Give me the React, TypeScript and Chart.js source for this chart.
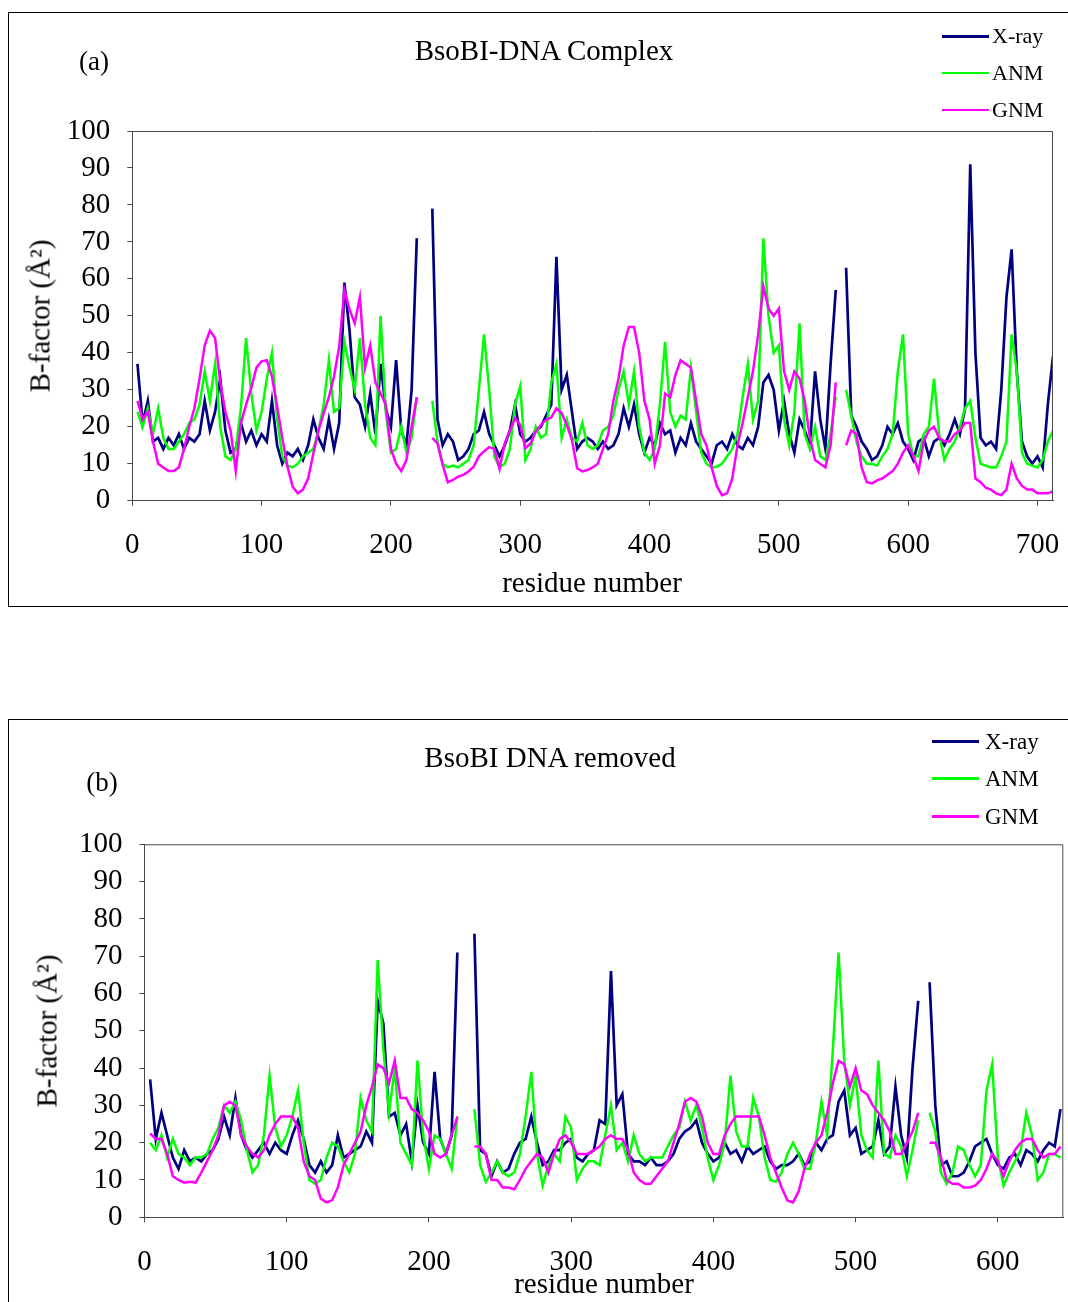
import React, { useEffect, useRef } from "react";
import { Chart, registerables } from "chart.js";

Chart.register(...registerables);

// ---------- sampling grid (residue numbers) ----------
const range = (start: number, end: number, step: number): number[] => {
  const out: number[] = [];
  for (let v = start; v <= end; v += step) out.push(v);
  return out;
};
const RESIDUES_A = range(4, 712, 4);
const RESIDUES_B = range(4, 644, 4);

// ---------- panel (a): BsoBI-DNA Complex ----------
const XRAY_A: (number | null)[] = [
  37, 21, 27, 16, 17, 14, 17, 15, 18, 14,
  17, 16, 18, 27, 19, 24, 33, 19, 13, 14,
  21, 16, 19, 15, 18, 16, 27, 15, 10, 13,
  12, 14, 11, 15, 22, 17, 14, 22, 14, 21,
  59, 46, 28, 26, 20, 29, 18, 37, 25, 20,
  38, 19, 15, 30, 71, null, null, 79, 22, 15,
  18, 16, 11, 12, 14, 18, 19, 24, 18, 15,
  12, 15, 19, 26, 18, 16, 17, 19, 20, 23,
  26, 66, 30, 34, 24, 14, 16, 17, 16, 14,
  16, 14, 15, 18, 25, 20, 26, 18, 13, 17,
  15, 21, 18, 19, 13, 17, 15, 21, 16, 14,
  12, 10, 15, 16, 14, 18, 15, 14, 17, 15,
  20, 32, 34, 30, 19, 27, 18, 13, 22, 19,
  15, 35, 22, 14, 37, 57, null, 63, 23, 20,
  16, 14, 11, 12, 15, 20, 18, 21, 16, 14,
  11, 16, 17, 12, 16, 17, 15, 18, 22, 18,
  25, 91, 40, 17, 15, 16, 14, 30, 55, 68,
  35, 16, 12, 10, 12, 9, 26, 39,
];
const ANM_A: (number | null)[] = [
  24, 20, 25, 18, 25, 17, 14, 14, 16, 18,
  21, 22, 26, 35, 27, 37, 20, 12, 11, 14,
  25, 44, 29, 19, 24, 33, 40, 22, 12, 9.5,
  9, 10, 12, 13, 14, 19, 26, 38, 24, 25,
  43, 36, 30, 44, 26, 17, 15, 50, 24, 13,
  14, 20, 13, 17, 28, null, null, 27, 16, 10,
  9, 9.5, 9, 10, 11, 15, 30, 45, 30, 12,
  9, 10, 14, 26, 31, 11, 14, 20, 17, 18,
  32, 37, 17, 22, 17, 16, 21, 15, 14, 15,
  19, 20, 23, 30, 35, 26, 35, 20, 13, 11,
  14, 26, 43, 24, 20, 23, 22, 36, 24, 13,
  10, 9, 9.2, 10, 12, 14, 18, 28, 37, 22,
  27, 71, 50, 40, 42, 22, 15, 24, 48, 18,
  14, 20, 12, 11, 18, 28, null, 30, 23, 16,
  12, 10, 10, 9.5, 12, 14, 18, 35, 45, 18,
  12, 12, 18, 20, 33, 18, 11, 14, 16, 20,
  25, 27, 17, 10, 9.5, 9, 9, 12, 16, 45,
  35, 13, 10, 9.5, 9, 11, 16, 19,
];
const GNM_A: (number | null)[] = [
  27, 22, 24, 16, 10, 9, 8, 8, 9, 14,
  20, 25, 33, 42, 46, 44, 32, 24, 19, 8,
  21, 26, 30.5, 36, 37.7, 38, 33.6, 25.5, 17, 9.2,
  3.8, 2, 3, 6, 12.8, 19, 23.7, 28, 33.6, 41.7,
  57, 51.7, 48, 55, 36, 42, 32, 29, 26, 14,
  10, 8, 11, 20, 28, null, null, 17, 15.5, 9.7,
  5, 5.6, 6.5, 7, 7.9, 9.2, 12, 13.3, 14.5, 14,
  8.6, 15.5, 19, 22.3, 20.5, 14.2, 15.5, 18.7, 20.5, 21.9,
  22.5, 25, 23.7, 20.5, 16.4, 8.8, 7.9, 8.3, 9, 10,
  14, 18, 27, 33, 42, 47, 47, 40, 27, 22,
  10, 15, 29, 28, 34, 38, 37, 36, 27, 18,
  15, 9, 4, 1.5, 2, 6, 15, 21, 28, 35,
  45, 58, 52, 50, 52, 35, 30, 35, 33, 27,
  17, 11, 10, 9, 15, 32, null, 15, 19, 18,
  9, 5, 4.7, 5.5, 6, 7, 8, 10, 13, 15,
  12, 8, 16, 19, 20, 17, 16, 16, 18, 19,
  21, 21, 6, 5, 3.5, 3, 2, 1.5, 3, 10,
  6, 4, 3, 3, 2, 2, 2, 2.5,
];

// ---------- panel (b): BsoBI DNA removed ----------
const XRAY_B: (number | null)[] = [
  37, 21, 28, 22, 16, 13, 18, 15, 16, 15,
  17, 18, 21, 27, 22, 32, 22, 18, 16, 18,
  20, 17, 20, 18, 17, 22, 26, 21, 14, 12,
  15, 12, 14, 22, 16, 17, 18, 19, 23, 20,
  58, 52, 27, 28, 22, 25, 15, 30, 20, 17,
  39, 21, 17, 22, 71, null, null, 76, 18, 17,
  11, 15, 12, 13, 17, 20, 21, 27, 20, 14,
  15, 18, 18, 20, 21, 16, 15, 17, 18, 26,
  25, 66, 30, 33, 17, 15, 15, 14, 16, 14,
  14, 15, 17, 21, 23, 24, 26, 20, 17, 15,
  16, 20, 17, 18, 15, 19, 17, 18, 19, 15,
  13, 14, 14, 15, 17, 14, 15, 20, 18, 21,
  22, 31, 34, 22, 24, 17, 18, 19, 26, 17,
  19, 35, 22, 16, 40, 58, null, 63, 30, 14,
  15, 11, 11, 12, 15, 19, 20, 21, 17, 14,
  13, 16, 17, 14, 18, 17, 15, 18, 20, 19,
  29,
];
const ANM_B: (number | null)[] = [
  20, 18, 22, 16, 21, 17, 16, 14, 16, 16,
  17, 21, 24, 30, 28, 31, 26, 18, 12, 14,
  22, 38, 24, 19, 22, 27, 34, 20, 10, 9,
  10, 16, 20, 19, 15, 12, 17, 32, 26, 23,
  69, 45, 28, 40, 20, 17, 14, 42, 22, 13,
  22, 21, 17, 13, 27, null, null, 29, 14, 9.5,
  12, 15, 12, 11, 12, 17, 27, 39, 17, 8.5,
  14, 17, 15, 27, 24, 10, 13, 15, 15, 14,
  22, 30, 18, 20, 15, 22, 17, 15, 16, 16,
  16, 19, 22, 24, 31, 26, 30, 24, 16, 10,
  14, 20, 38, 23, 19, 19, 32, 27, 16, 10,
  9.5, 12, 17, 20, 17, 13, 13, 20, 31, 22,
  45, 71, 42, 30, 38, 22, 18, 16, 42, 17,
  16, 22, 19, 11, 18, 26, null, 28, 23, 12,
  9, 12, 19, 18, 14, 11, 14, 34, 41, 16,
  8.5, 12, 15, 18, 28, 22, 10, 12, 17, 17,
  16,
];
const GNM_B: (number | null)[] = [
  22.5, 21, 21, 17, 11, 10, 9.3, 9.5, 9.3, 12,
  15, 18, 22, 30, 31, 30, 22, 19, 17, 16,
  18, 22, 25, 27, 27, 27, 24, 15, 11, 10,
  5, 4, 4.6, 8, 14, 17, 20, 23, 30, 35,
  41, 40, 36, 42, 32, 32, 29, 28, 26, 23,
  17, 16, 17, 22, 27, null, null, 19, 19, 17,
  10, 10, 8, 8, 7.5, 10, 13, 15, 17, 16,
  12, 17, 21, 22, 20, 17, 17, 17, 18, 19,
  21, 22, 21, 21, 18, 12, 10, 9, 9, 11,
  13, 15, 20, 25, 31, 32, 31, 27, 20, 17,
  17, 22, 25, 27, 27, 27, 27, 27, 22, 16,
  12, 8, 4.5, 4, 7, 13, 17, 20, 22, 28,
  36, 42, 41, 35, 40, 34, 33, 30, 28, 26,
  23, 17, 17, 20, 23, 28, null, 20, 20, 16,
  10, 9, 9, 8, 8, 8.5, 10, 13, 17, 15,
  11, 15, 18, 20, 21, 21, 18, 16, 17, 17,
  19,
];

const SERIES_NAMES = ["X-ray", "ANM", "GNM"];
const SERIES_COLORS = ["#000080", "#00FF00", "#FF00FF"];
const SERIES_WIDTHS = [2.7, 2.5, 2.5];
const Y_TICK_MAX = 100;
const Y_TICK_STEP = 10;
const X_TICK_STEP = 100;

const FONT = '"Liberation Serif", "Times New Roman", Times, serif';
const AXIS_COLOR = "#4a4a4a";

type Area = { left: number; top: number; right: number; bottom: number };

const plotFrame = {
  id: "plotFrame",
  afterDraw(chart: any) {
    const { ctx, chartArea: a } = chart;
    ctx.save();
    ctx.strokeStyle = AXIS_COLOR;
    ctx.lineWidth = 1;
    ctx.beginPath();
    ctx.moveTo(a.left, a.top + 0.5);
    ctx.lineTo(a.right - 0.5, a.top + 0.5);
    ctx.lineTo(a.right - 0.5, a.bottom);
    ctx.stroke();
    ctx.restore();
  },
};

function PanelChart(props: {
  top: number;
  height: number;
  area: Area;
  xMax: number;
  xPad: number;
  residues: number[];
  series: (number | null)[][];
}) {
  const ref = useRef<HTMLCanvasElement | null>(null);
  useEffect(() => {
    const canvas = ref.current;
    if (!canvas) return;
    const { area, height, xMax, residues, series, xPad } = props;
    const datasets = series.map((vals, i) => ({
      label: SERIES_NAMES[i],
      data: residues.map((r, k) => ({ x: r, y: vals[k] })),
      borderColor: SERIES_COLORS[i],
      backgroundColor: SERIES_COLORS[i],
      borderWidth: SERIES_WIDTHS[i],
      pointRadius: 0,
      tension: 0,
      spanGaps: false,
      order: 3 - i,
    }));
    const chart = new Chart(canvas, {
      type: "line",
      data: { datasets },
      plugins: [plotFrame],
      options: {
        animation: false,
        responsive: false,
        events: [],
        layout: {
          padding: { left: 0, top: area.top, right: 1068 - area.right, bottom: 0 },
        },
        plugins: { legend: { display: false }, tooltip: { enabled: false }, title: { display: false } },
        scales: {
          x: {
            type: "linear",
            min: 0,
            max: xMax,
            afterFit: (s: any) => {
              s.height = height - area.bottom;
              s.paddingLeft = 0;
              s.paddingRight = 0;
            },
            ticks: {
              stepSize: X_TICK_STEP,
              includeBounds: false,
              autoSkip: false,
              color: "#000",
              padding: xPad,
              maxRotation: 0,
              font: { family: FONT, size: 29 },
            },
            grid: { drawOnChartArea: false, drawTicks: true, tickLength: 5, color: AXIS_COLOR },
            border: { display: true, color: AXIS_COLOR, width: 1 },
          },
          y: {
            type: "linear",
            min: 0,
            max: Y_TICK_MAX,
            afterFit: (s: any) => {
              s.width = area.left;
              s.paddingTop = 0;
              s.paddingBottom = 0;
            },
            ticks: {
              stepSize: Y_TICK_STEP,
              autoSkip: false,
              color: "#000",
              padding: 17,
              font: { family: FONT, size: 29 },
            },
            grid: { drawOnChartArea: false, drawTicks: true, tickLength: 5, color: AXIS_COLOR },
            border: { display: true, color: AXIS_COLOR, width: 1 },
          },
        },
      } as any,
    });
    return () => chart.destroy();
  }, []);
  return (
    <canvas
      ref={ref}
      width={1068}
      height={props.height}
      style={{ position: "absolute", left: 0, top: props.top, width: 1068, height: props.height }}
    />
  );
}

function Text(props: { x: number; y: number; size: number; rotate?: boolean; children: React.ReactNode }) {
  return (
    <div
      style={{
        position: "absolute",
        left: props.x,
        top: props.y,
        transform: `translate(-50%, -50%)${props.rotate ? " rotate(-90deg)" : ""}`,
        fontFamily: FONT,
        fontSize: props.size,
        lineHeight: 1,
        whiteSpace: "nowrap",
        color: "#000",
      }}
    >
      {props.children}
    </div>
  );
}

function Legend(props: { x1: number; x2: number; textX: number; ys: number[]; size: number }) {
  return (
    <>
      {SERIES_NAMES.map((name, i) => (
        <React.Fragment key={name}>
          <div
            style={{
              position: "absolute",
              left: props.x1,
              top: props.ys[i] - 1,
              width: props.x2 - props.x1,
              height: 2.5,
              background: SERIES_COLORS[i],
            }}
          />
          <div
            style={{
              position: "absolute",
              left: props.textX,
              top: props.ys[i],
              transform: "translateY(-50%)",
              fontFamily: FONT,
              fontSize: props.size,
              lineHeight: 1,
              whiteSpace: "nowrap",
              color: "#000",
            }}
          >
            {name}
          </div>
        </React.Fragment>
      ))}
    </>
  );
}

export default function App() {
  useEffect(() => {
    document.body.style.overflow = "hidden";
  }, []);
  return (
    <div style={{ position: "fixed", left: 0, top: 0, width: 1068, height: 1302, overflow: "hidden", background: "#fff" }}>
      {/* panel a frame */}
      <div
        style={{
          position: "absolute",
          left: 8,
          top: 12,
          width: 1060,
          height: 595,
          boxSizing: "border-box",
          borderLeft: "1px solid #000",
          borderTop: "1px solid #000",
          borderBottom: "1px solid #000",
        }}
      />
      {/* panel b frame */}
      <div
        style={{
          position: "absolute",
          left: 8,
          top: 719,
          width: 1060,
          height: 583,
          boxSizing: "border-box",
          borderLeft: "1px solid #000",
          borderTop: "1px solid #000",
        }}
      />
      <PanelChart
        top={0}
        height={610}
        area={{ left: 132.3, top: 131, right: 1053, bottom: 500.7 }}
        xMax={712}
        xPad={22}
        residues={RESIDUES_A}
        series={[XRAY_A, ANM_A, GNM_A]}
      />
      <PanelChart
        top={700}
        height={602}
        area={{ left: 144.4, top: 144.3, right: 1063.3, bottom: 517.3 }}
        xMax={646}
        xPad={23}
        residues={RESIDUES_B}
        series={[XRAY_B, ANM_B, GNM_B]}
      />
      <Text x={94} y={61} size={27}>(a)</Text>
      <Text x={544} y={50} size={29}>BsoBI-DNA Complex</Text>
      <Text x={40} y={316} size={29} rotate>B-factor (Å²)</Text>
      <Text x={592} y={582} size={29}>residue number</Text>
      <Legend x1={942} x2={989} textX={992} ys={[36, 72.5, 109.5]} size={22} />

      <Text x={102} y={782} size={27}>(b)</Text>
      <Text x={550} y={757} size={29}>BsoBI DNA removed</Text>
      <Text x={47} y={1031} size={29} rotate>B-factor (Å²)</Text>
      <Text x={604} y={1283} size={29}>residue number</Text>
      <Legend x1={932} x2={979} textX={985} ys={[741, 778, 816]} size={23} />
    </div>
  );
}
